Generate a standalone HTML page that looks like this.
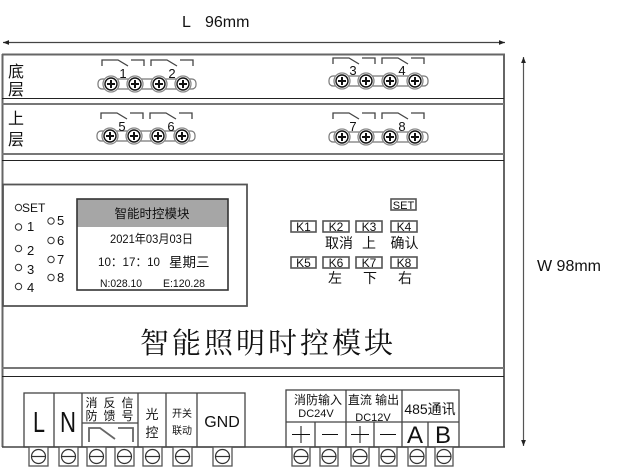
<!DOCTYPE html>
<html><head><meta charset="utf-8"><style>
html,body{margin:0;padding:0;background:#fff;}
svg{display:block;}
text{font-family:"Liberation Sans","Noto Sans CJK SC",sans-serif;fill:#111;}
.s{font-family:"Noto Serif CJK SC","Liberation Serif",serif;}
</style></head><body>
<svg width="627" height="470" viewBox="0 0 627 470" xmlns="http://www.w3.org/2000/svg">
<defs>
<marker id="ah" viewBox="0 0 10 10" refX="10" refY="5" markerWidth="7" markerHeight="6" orient="auto-start-reverse" markerUnits="userSpaceOnUse"><path d="M0,1 L10,5 L0,9 z" fill="#222"/></marker>
</defs>
<!-- dimension lines -->
<line x1="3" y1="42.5" x2="505" y2="42.5" stroke="#444" stroke-width="1.2" marker-start="url(#ah)" marker-end="url(#ah)"/>
<text x="182" y="27" font-size="16">L</text>
<text x="205" y="27" font-size="16">96mm</text>
<line x1="523.5" y1="57" x2="523.5" y2="446" stroke="#555" stroke-width="1.2" marker-start="url(#ah)" marker-end="url(#ah)"/>
<text x="537" y="271" font-size="16">W 98mm</text>

<!-- outer box -->
<g stroke="#666" stroke-width="2" fill="none">
<line x1="2" y1="54.5" x2="505" y2="54.5"/>
<line x1="2.5" y1="54" x2="2.5" y2="447"/>
<line x1="504" y1="54" x2="504" y2="447"/>
</g>
<line x1="2" y1="447" x2="505" y2="447" stroke="#444" stroke-width="1.5"/>
<line x1="2" y1="98.5" x2="504" y2="98.5" stroke="#222" stroke-width="1"/>
<line x1="2" y1="104" x2="504" y2="104" stroke="#777" stroke-width="2"/>
<line x1="2" y1="154" x2="504" y2="154" stroke="#777" stroke-width="2"/>
<line x1="2" y1="160.5" x2="504" y2="160.5" stroke="#222" stroke-width="1"/>
<line x1="2" y1="368" x2="504" y2="368" stroke="#777" stroke-width="2"/>
<line x1="2" y1="376.5" x2="504" y2="376.5" stroke="#222" stroke-width="1"/>

<!-- row labels -->
<text x="8" y="77" font-size="16">底</text>
<text x="8" y="95" font-size="16">层</text>
<text x="8" y="124" font-size="16">上</text>
<text x="8" y="145" font-size="16">层</text>

<!-- relay groups -->
<g stroke="#444" stroke-width="1.3" fill="none">
<!-- left row1 t=102 yc=60 -->
<path d="M102,66V60H118L128,66M131,60H144V66"/>
<path d="M151,66V60H167L177,66M180,60H193V66"/>
<!-- left row2 t=101 yc=113 -->
<path d="M101,119V113H117L127,119M130,113H143V119"/>
<path d="M150,119V113H166L176,119M179,113H192V119"/>
<!-- right row1 t=333 yc=58 -->
<path d="M333,64V58H349L359,64M362,58H375V64"/>
<path d="M382,64V58H398L408,64M411,58H424V64"/>
<!-- right row2 t=333 yc=113 -->
<path d="M333,119V113H349L359,119M362,113H375V119"/>
<path d="M382,119V113H398L408,119M411,113H424V119"/>
</g>
<g fill="#fff" stroke="#777" stroke-width="1.2">
<rect x="98" y="79" width="98" height="10" rx="4"/>
<rect x="97" y="131" width="98" height="10" rx="4"/>
<rect x="329" y="76" width="99" height="10" rx="4"/>
<rect x="329" y="132" width="99" height="10" rx="4"/>
</g>
<g id="c1">
</g>
<g fill="#fff">
<g stroke="#888" stroke-width="1.3">
<circle cx="111" cy="84" r="8"/><circle cx="135" cy="84" r="8"/><circle cx="159" cy="84" r="8"/><circle cx="183" cy="84" r="8"/>
<circle cx="110" cy="136" r="8"/><circle cx="134" cy="136" r="8"/><circle cx="158" cy="136" r="8"/><circle cx="182" cy="136" r="8"/>
<circle cx="342" cy="81" r="8"/><circle cx="366" cy="81" r="8"/><circle cx="390" cy="81" r="8"/><circle cx="415" cy="81" r="8"/>
<circle cx="342" cy="137" r="8"/><circle cx="366" cy="137" r="8"/><circle cx="390" cy="137" r="8"/><circle cx="415" cy="137" r="8"/>
</g>
<g stroke="#111" stroke-width="1.4">
<circle cx="111" cy="84" r="6"/><circle cx="135" cy="84" r="6"/><circle cx="159" cy="84" r="6"/><circle cx="183" cy="84" r="6"/>
<circle cx="110" cy="136" r="6"/><circle cx="134" cy="136" r="6"/><circle cx="158" cy="136" r="6"/><circle cx="182" cy="136" r="6"/>
<circle cx="342" cy="81" r="6"/><circle cx="366" cy="81" r="6"/><circle cx="390" cy="81" r="6"/><circle cx="415" cy="81" r="6"/>
<circle cx="342" cy="137" r="6"/><circle cx="366" cy="137" r="6"/><circle cx="390" cy="137" r="6"/><circle cx="415" cy="137" r="6"/>
</g>
</g>
<g stroke="#111" stroke-width="2" fill="none">
<path d="M107,84h8M111,80v8M131,84h8M135,80v8M155,84h8M159,80v8M179,84h8M183,80v8"/>
<path d="M106,136h8M110,132v8M130,136h8M134,132v8M154,136h8M158,132v8M178,136h8M182,132v8"/>
<path d="M338,81h8M342,77v8M362,81h8M366,77v8M386,81h8M390,77v8M411,81h8M415,77v8"/>
<path d="M338,137h8M342,133v8M362,137h8M366,133v8M386,137h8M390,133v8M411,137h8M415,133v8"/>
</g>
<g font-size="13" text-anchor="middle">
<text x="123" y="78">1</text><text x="172" y="78">2</text>
<text x="122" y="131">5</text><text x="171" y="131">6</text>
<text x="353" y="75">3</text><text x="402" y="75">4</text>
<text x="353" y="131">7</text><text x="402" y="131">8</text>
</g>

<!-- left panel -->
<rect x="3" y="184.5" width="244" height="121.5" fill="none" stroke="#555" stroke-width="1.8"/>
<g fill="none" stroke="#333" stroke-width="1">
<circle cx="18.5" cy="207.5" r="3.2"/>
<circle cx="18.5" cy="227" r="3.2"/>
<circle cx="18.5" cy="248.5" r="3.2"/>
<circle cx="18.5" cy="267.5" r="3.2"/>
<circle cx="18.5" cy="286.5" r="3.2"/>
<circle cx="51" cy="221" r="3.2"/>
<circle cx="51" cy="240.5" r="3.2"/>
<circle cx="51" cy="259.5" r="3.2"/>
<circle cx="51" cy="277.5" r="3.2"/>
</g>
<g font-size="13">
<text x="22" y="212" font-size="12">SET</text>
<text x="27" y="231">1</text>
<text x="27" y="255">2</text>
<text x="27" y="274">3</text>
<text x="27" y="292">4</text>
<text x="57" y="225">5</text>
<text x="57" y="245">6</text>
<text x="57" y="264">7</text>
<text x="57" y="282">8</text>
</g>
<!-- display -->
<rect x="77" y="199" width="151" height="28" fill="#a6a6a6"/>
<rect x="77" y="199" width="151" height="91" fill="none" stroke="#333" stroke-width="1.6"/>
<text x="152" y="218" font-size="12.5" text-anchor="middle">智能时控模块</text>
<text x="110" y="243" font-size="12" textLength="83" lengthAdjust="spacingAndGlyphs">2021年03月03日</text>
<text x="98" y="266" font-size="12" textLength="62" lengthAdjust="spacingAndGlyphs">10：17：10</text>
<text x="169" y="267" font-size="13.5">星期三</text>
<text x="100" y="287" font-size="11" textLength="42" lengthAdjust="spacingAndGlyphs">N:028.10</text>
<text x="163" y="287" font-size="11" textLength="42" lengthAdjust="spacingAndGlyphs">E:120.28</text>

<!-- keys -->
<g fill="none" stroke="#555" stroke-width="1.6">
<rect x="391" y="199" width="25" height="11"/>
<rect x="291" y="221" width="25" height="11"/>
<rect x="323" y="221" width="26" height="11"/>
<rect x="356" y="221" width="26" height="11"/>
<rect x="391" y="221" width="26" height="11"/>
<rect x="291" y="257" width="25" height="11"/>
<rect x="323" y="257" width="26" height="11"/>
<rect x="356" y="257" width="26" height="11"/>
<rect x="391" y="257" width="26" height="11"/>
</g>
<g font-size="12" text-anchor="middle">
<text x="403.5" y="209" font-size="11">SET</text>
<text x="303.5" y="231">K1</text>
<text x="336" y="231">K2</text>
<text x="369" y="231">K3</text>
<text x="404" y="231">K4</text>
<text x="303.5" y="267">K5</text>
<text x="336" y="267">K6</text>
<text x="369" y="267">K7</text>
<text x="404" y="267">K8</text>
</g>
<g font-size="14" text-anchor="middle">
<text x="339" y="248">取消</text>
<text x="369" y="248">上</text>
<text x="404.5" y="248">确认</text>
<text x="335" y="283">左</text>
<text x="370" y="283">下</text>
<text x="405" y="283">右</text>
</g>

<!-- big title -->
<text class="s" x="140" y="353" font-size="29" textLength="253" lengthAdjust="spacing">智能照明时控模块</text>

<!-- left terminal block -->
<g fill="none" stroke="#444" stroke-width="1.3">
<rect x="24" y="393" width="221" height="54"/>
<line x1="54" y1="393" x2="54" y2="447"/>
<line x1="82" y1="393" x2="82" y2="447"/>
<line x1="138" y1="393" x2="138" y2="447"/>
<line x1="166" y1="393" x2="166" y2="447"/>
<line x1="197" y1="393" x2="197" y2="447"/>
<line x1="82" y1="423" x2="138" y2="423"/>
</g>
<path d="M89,442V428H100L115,439M118,428H133V442" fill="none" stroke="#666" stroke-width="1.8"/>
<text x="39" y="432" font-size="29" text-anchor="middle" textLength="12" lengthAdjust="spacingAndGlyphs">L</text>
<text x="68" y="432" font-size="29" text-anchor="middle" textLength="16" lengthAdjust="spacingAndGlyphs">N</text>
<g font-size="12" text-anchor="middle">
<text x="91.5" y="407">消</text><text x="109.5" y="407">反</text><text x="127.5" y="407">信</text>
<text x="91.5" y="420">防</text><text x="109.5" y="420">馈</text><text x="127.5" y="420">号</text>
</g>
<text x="152" y="419" font-size="13" text-anchor="middle">光</text>
<text x="152" y="437" font-size="13" text-anchor="middle">控</text>
<text x="182" y="417" font-size="10" text-anchor="middle">开关</text>
<text x="182" y="434" font-size="10" text-anchor="middle">联动</text>
<text x="222" y="427" font-size="16" text-anchor="middle">GND</text>

<!-- right terminal block -->
<g fill="none" stroke="#444" stroke-width="1.3">
<rect x="286" y="390" width="173" height="57"/>
<line x1="286" y1="422" x2="459" y2="422"/>
<line x1="346" y1="390" x2="346" y2="447"/>
<line x1="402" y1="390" x2="402" y2="447"/>
<line x1="315" y1="422" x2="315" y2="447"/>
<line x1="374" y1="422" x2="374" y2="447"/>
<line x1="428" y1="422" x2="428" y2="447"/>
</g>
<text x="318" y="404" font-size="12" text-anchor="middle">消防输入</text>
<text x="316" y="417" font-size="11" text-anchor="middle">DC24V</text>
<text x="373.5" y="404" font-size="12" text-anchor="middle">直流 输出</text>
<text x="373" y="421" font-size="11" text-anchor="middle">DC12V</text>
<text x="430" y="414" font-size="14" text-anchor="middle">485通讯</text>
<g stroke="#111" stroke-width="1" fill="none">
<path d="M292,434.5h18M301,426v17"/>
<path d="M322,434.5h16"/>
<path d="M351,434.5h18M360,426v17"/>
<path d="M380,434.5h16"/>
</g>
<text x="415" y="443" font-size="24" text-anchor="middle">A</text>
<text x="443" y="443" font-size="24" text-anchor="middle">B</text>

<!-- screws -->
<g fill="#fff" stroke="#555" stroke-width="1.3">
<rect x="29" y="447" width="19" height="19"/>
<rect x="59" y="447" width="19" height="19"/>
<rect x="87" y="447" width="19" height="19"/>
<rect x="115" y="447" width="19" height="19"/>
<rect x="143" y="447" width="19" height="19"/>
<rect x="173" y="447" width="19" height="19"/>
<rect x="213" y="447" width="19" height="19"/>
<rect x="292" y="447" width="18" height="19"/>
<rect x="320" y="447" width="18" height="19"/>
<rect x="351" y="447" width="18" height="19"/>
<rect x="379" y="447" width="18" height="19"/>
<rect x="408" y="447" width="18" height="19"/>
<rect x="435" y="447" width="18" height="19"/>
</g>
<g fill="none" stroke="#333" stroke-width="1.2">
<circle cx="38.5" cy="456.5" r="7"/><path d="M31.5,456.5h14"/>
<circle cx="68.5" cy="456.5" r="7"/><path d="M61.5,456.5h14"/>
<circle cx="96.5" cy="456.5" r="7"/><path d="M89.5,456.5h14"/>
<circle cx="124.5" cy="456.5" r="7"/><path d="M117.5,456.5h14"/>
<circle cx="152.5" cy="456.5" r="7"/><path d="M145.5,456.5h14"/>
<circle cx="182.5" cy="456.5" r="7"/><path d="M175.5,456.5h14"/>
<circle cx="222.5" cy="456.5" r="7"/><path d="M215.5,456.5h14"/>
<circle cx="301" cy="456.5" r="7"/><path d="M294,456.5h14"/>
<circle cx="329" cy="456.5" r="7"/><path d="M322,456.5h14"/>
<circle cx="360" cy="456.5" r="7"/><path d="M353,456.5h14"/>
<circle cx="388" cy="456.5" r="7"/><path d="M381,456.5h14"/>
<circle cx="417" cy="456.5" r="7"/><path d="M410,456.5h14"/>
<circle cx="444" cy="456.5" r="7"/><path d="M437,456.5h14"/>
</g>
</svg>
</body></html>
